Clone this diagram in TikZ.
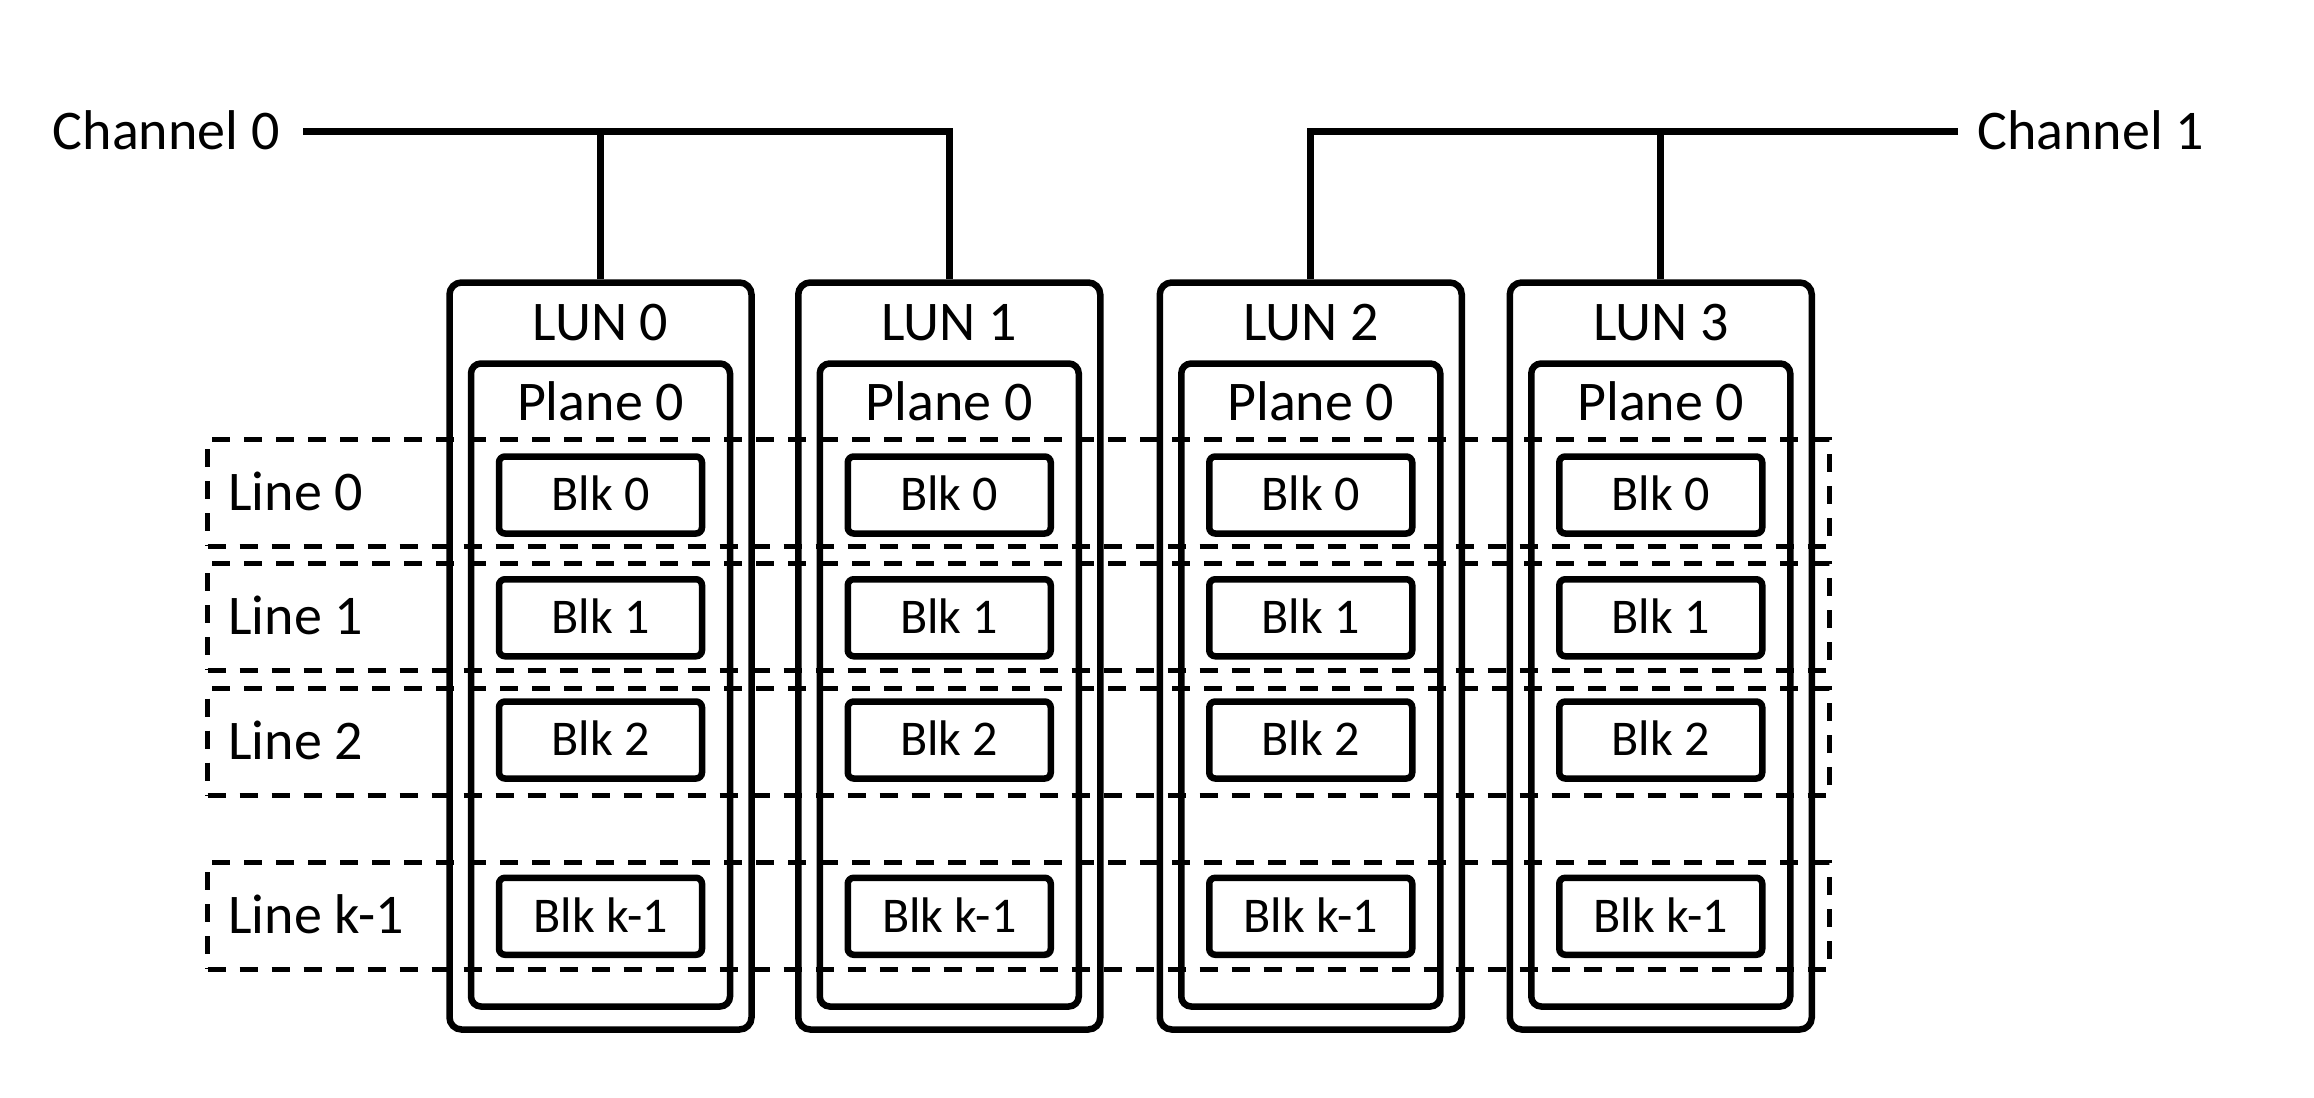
\documentclass[tikz,border=0pt]{standalone}
\usepackage{fontspec}
\setmainfont{Carlito}
\begin{document}
\begin{tikzpicture}[x=0.5pt,y=-0.5pt,
  lun/.style={draw,line width=3.25pt,rounded corners=6pt,minimum width=151pt,minimum height=373.5pt,inner sep=0pt},
  plane/.style={draw,line width=3.25pt,rounded corners=5pt,minimum width=129.5pt,minimum height=321.5pt,inner sep=0pt},
  blk/.style={draw,line width=3.25pt,rounded corners=3pt,minimum width=101.5pt,minimum height=38.5pt,inner sep=0pt,font=\fontsize{25}{30}\selectfont,text height=15.8pt,text depth=0pt},
  lbl/.style={inner sep=0pt,font=\fontsize{28}{34}\selectfont,text height=17.7pt,text depth=0pt},
  linebox/.style={draw,line width=2.5pt,dash pattern=on 9pt off 7pt,minimum width=810.75pt,minimum height=53.5pt,inner sep=0pt},
  bus/.style={line width=3.4pt}]
\useasboundingbox (0,0) rectangle (2314,1098);

% dashed lines (stripes)
\foreach \j/\y/\t in {0/492.75/0,1/616.75/1,2/742/2,k/915.75/k-1}{
  \node[linebox] (line\j) at (1018.25,\y) {};
  \node[lbl,anchor=west] (linelbl\j) at (228,\y) {Line \t};
}

% LUNs, planes, blocks
\foreach \i/\x in {0/600.5,1/949.25,2/1310.75,3/1660.75}{
  \node[lun] (lun\i) at (\x,656) {};
  \node[lbl] (lunlbl\i) at (\x,323) {LUN \i};
  \node[plane] (plane\i) at (\x,685) {};
  \node[lbl] (planelbl\i) at (\x,403) {Plane 0};
  \foreach \j/\y/\t in {0/495/0,1/617.75/1,2/740/2,k/916.25/k-1}{
    \node[blk] (blk\i\j) at (\x,\y) {Blk \t};
  }
}

% channels
\node[lbl,anchor=east] (ch0) at (280,131.5) {Channel 0};
\node[lbl,anchor=west] (ch1) at (1977,131.5) {Channel 1};
\coordinate (ch0end) at ([xshift=11.5pt]ch0.east);
\coordinate (ch1end) at ([xshift=-9.5pt]ch1.west);
\draw[bus] (ch0end) -| (lun1.north);
\draw[bus] (lun0.north) -- (lun0.north |- ch0end);
\draw[bus] (ch1end) -| (lun2.north);
\draw[bus] (lun3.north) -- (lun3.north |- ch1end);
\end{tikzpicture}
\end{document}
